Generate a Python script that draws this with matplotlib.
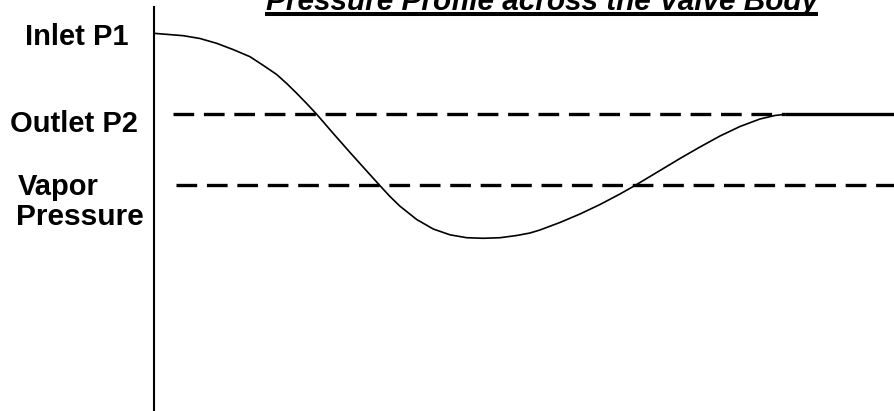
import matplotlib
matplotlib.use("Agg")
import matplotlib.pyplot as plt
from matplotlib.lines import Line2D

# ---- data (position along valve in %, pressure in % of axis height) ----
position = [0.0, 3.96, 6.22, 8.47, 10.68, 12.97, 14.99, 16.58, 17.93, 19.28,
            20.64, 21.99, 24.23, 26.49, 28.74, 30.54, 31.89, 33.24, 35.50,
            37.74, 40.0, 42.26, 44.5, 46.76, 49.01, 50.81, 52.16, 54.86,
            57.57, 60.27, 62.97, 65.0, 67.03, 69.05, 71.08, 73.78, 76.49,
            79.19, 81.89, 83.92, 85.27]
pressure = [93.47, 92.88, 92.18, 90.99, 89.45, 87.67, 85.24, 83.25, 81.02,
            78.59, 76.03, 73.37, 68.61, 63.90, 59.31, 55.66, 52.98, 50.57,
            47.27, 44.91, 43.47, 42.75, 42.61, 42.75, 43.30, 43.92, 44.67,
            46.53, 48.64, 50.99, 53.60, 55.71, 57.94, 60.17, 62.41, 65.26,
            67.99, 70.35, 72.21, 73.08, 73.37]
downstream_x = [85.27, 100.0]
outlet_level = 73.37
vapor_level = 55.8
outlet_span = [2.57, 85.27]
vapor_span = [2.97, 100.0]

title = "Pressure Profile across the Valve Body"
labels = ["Inlet P1", "Outlet P2", "Vapor", "Pressure"]

# ---- figure ----
W, H = 894, 411
plt.rcParams['lines.scale_dashes'] = False
fig = plt.figure(figsize=(W / 100, H / 100), dpi=100)
fig.patch.set_facecolor("white")

ax = fig.add_axes([154 / W, 1 / H, 740 / W, 403 / H])
ax.set_xlim(0, 100)
ax.set_ylim(0, 100)
for s in ["top", "right", "bottom"]:
    ax.spines[s].set_visible(False)
ax.spines["left"].set_linewidth(1.5)
ax.set_xticks([])
ax.set_yticks([])
ax.patch.set_alpha(0)

dash = (0, (14.9, 7.0))
ax.plot(outlet_span, [outlet_level] * 2, color="black", lw=2.4, linestyle=dash,
        dash_capstyle="butt")
ax.plot(vapor_span, [vapor_level] * 2, color="black", lw=2.4, linestyle=dash,
        dash_capstyle="butt")
ax.plot(position, pressure, color="black", lw=1.2, solid_joinstyle="round")
ax.plot(downstream_x, [outlet_level] * 2, color="black", lw=2.4,
        solid_capstyle="butt")


def fx(px):
    return px / W


def fy(py):
    return 1 - py / H


font = dict(family=["Liberation Sans", "DejaVu Sans"], weight="bold",
            color="black", va="baseline", ha="left")
fig.text(fx(25), fy(45), labels[0], fontsize=21, **font)
fig.text(fx(10), fy(132), labels[1], fontsize=21, **font)
fig.text(fx(18), fy(195), labels[2], fontsize=21, **font)
fig.text(fx(16), fy(225), labels[3], fontsize=21.5, **font)

fig.text(fx(542), fy(9.5), title, fontsize=21.4, style="italic",
         family=["Liberation Sans", "DejaVu Sans"], weight="bold",
         ha="center", va="baseline")
fig.add_artist(Line2D([fx(265), fx(818)], [fy(14.5), fy(14.5)],
                      color="black", lw=2.9, solid_capstyle="butt"))

fig.savefig("out.png", dpi=100)
